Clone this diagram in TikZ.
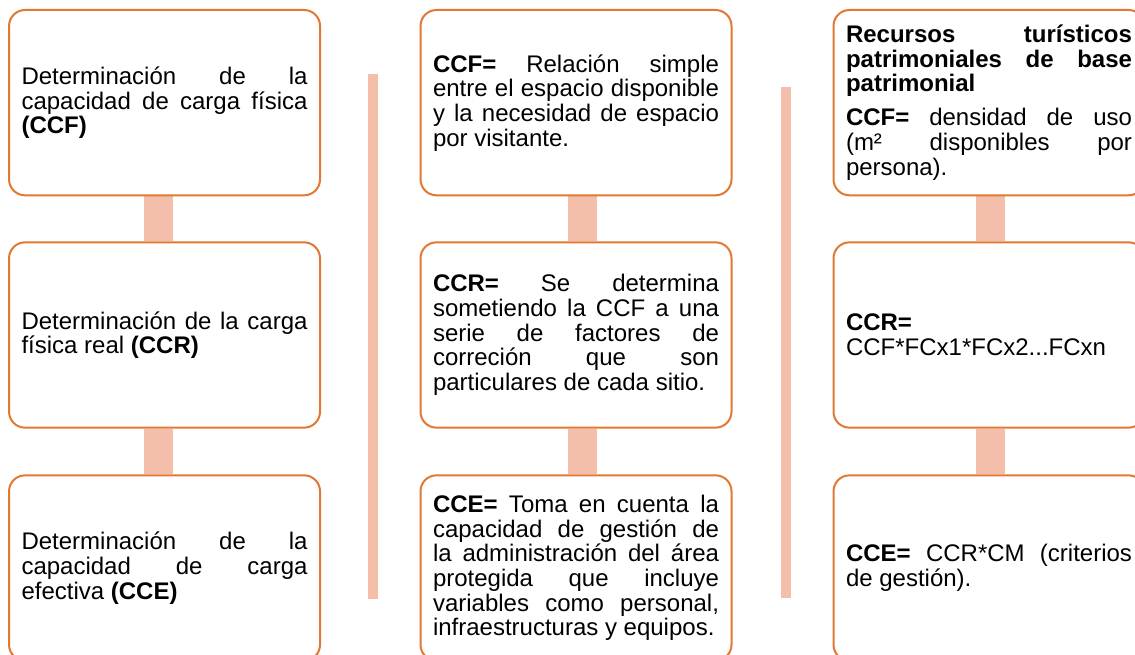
\documentclass[tikz,border=0pt]{standalone}
\usepackage{fontspec}
\setmainfont{Liberation Sans}
\usetikzlibrary{backgrounds}
\definecolor{boxline}{RGB}{226,120,50}
\definecolor{linkfill}{RGB}{244,191,170}

\begin{document}
\begin{tikzpicture}
[every node/.style={inner sep=0pt},
 stepbox/.style={rectangle, rounded corners=12pt, minimum width=233.25pt, minimum height=139pt, fill=white, line width=1.5pt, draw=boxline, text width=214.5pt, align=justify, font=\fontsize{18pt}{18.5pt}\selectfont},
 link/.style={fill=linkfill}]
\useasboundingbox (0pt, 0pt) rectangle (851.25pt, -491.25pt);
% column 1
\node (ccf1) [stepbox] at (123.4pt, -77.0pt) {Determinación de la\linebreak capacidad de carga física\linebreak \textbf{(CCF)}};
\node (ccr1) [stepbox] at (123.4pt, -251.25pt) {Determinación de la carga\linebreak física real \textbf{(CCR)}};
\node (cce1) [stepbox] at (123.4pt, -426.0pt) {Determinación de la\linebreak capacidad de carga\linebreak efectiva \textbf{(CCE)}};
% column 2
\node (ccf2) [stepbox] at (432.0pt, -77.0pt) {\textbf{CCF=} Relación simple\linebreak entre el espacio disponible\linebreak y la necesidad de espacio\linebreak por visitante.};
\node (ccr2) [stepbox] at (432.0pt, -251.25pt) {\textbf{CCR=} Se determina\linebreak sometiendo la CCF a una\linebreak serie de factores de\linebreak correción que son\linebreak particulares de cada sitio.};
\node (cce2) [stepbox] at (432.0pt, -426.0pt) {\textbf{CCE=} Toma en cuenta la\linebreak capacidad de gestión de\linebreak la administración del área\linebreak protegida que incluye\linebreak variables como personal,\linebreak infraestructuras y equipos.};
% column 3
\node (ccf3) [stepbox] at (741.75pt, -77.0pt) {\textbf{Recursos turísticos\linebreak patrimoniales de base\linebreak patrimonial}\par\vspace{7pt}\textbf{CCF=} densidad de uso\linebreak (m² disponibles por\linebreak persona).};
\node (ccr3) [stepbox] at (741.75pt, -251.25pt) {\textbf{CCR=}\\ CCF*FCx1*FCx2...FCxn};
\node (cce3) [stepbox] at (741.75pt, -426.0pt) {\textbf{CCE=} CCR*CM (criterios\linebreak de gestión).};
\begin{scope}[on background layer]
\fill [white] (0pt, 0pt) rectangle (851.25pt, -491.25pt);
\fill [link] ([xshift=-15.4pt]ccf1.south) rectangle ([xshift=6.4pt]ccr1.north);
\fill [link] ([xshift=-15.4pt]ccr1.south) rectangle ([xshift=6.4pt]cce1.north);
\fill [link] ([xshift=-6.0pt]ccf2.south) rectangle ([xshift=15.75pt]ccr2.north);
\fill [link] ([xshift=-6.0pt]ccr2.south) rectangle ([xshift=15.75pt]cce2.north);
\fill [link] ([xshift=-9.75pt]ccf3.south) rectangle ([xshift=12.0pt]ccr3.north);
\fill [link] ([xshift=-9.75pt]ccr3.south) rectangle ([xshift=12.0pt]cce3.north);
\end{scope}
% separators
\fill [link] (276.0pt, -55.5pt) rectangle (283.5pt, -449.25pt);
\fill [link] (585.75pt, -65.25pt) rectangle (593.25pt, -448.5pt);
\end{tikzpicture}
\end{document}
